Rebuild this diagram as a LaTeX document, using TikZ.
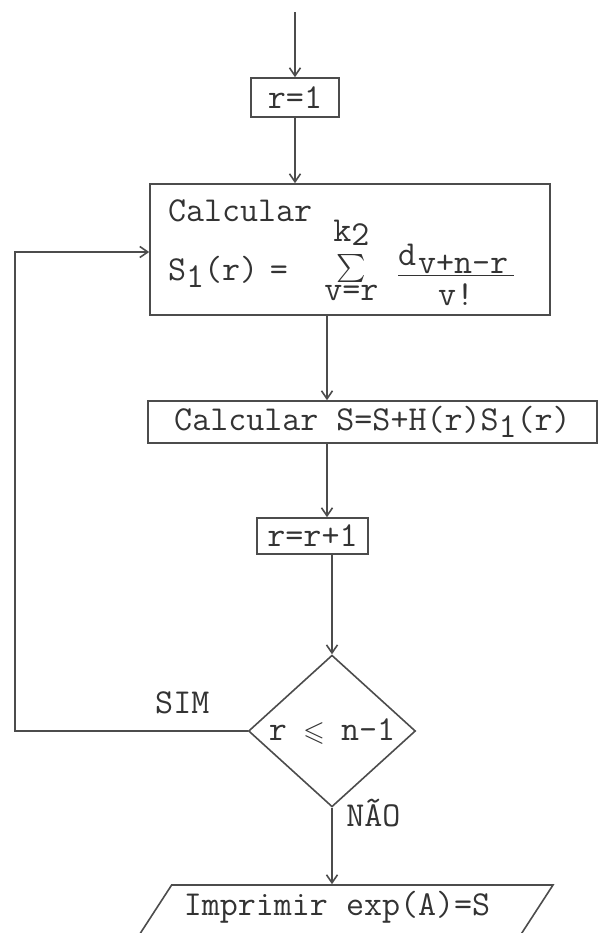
\documentclass[tikz,border=0pt]{standalone}
\usepackage{amsmath}
\usepackage{amssymb}
\usepackage{graphicx}
\usepackage{tikz}
\usetikzlibrary{positioning,arrows.meta,shapes.geometric}

\newcommand{\lo}[1]{\raisebox{-3.5pt}{#1}}
\newcommand{\sumblk}{%
  \rlap{\makebox[27pt]{\raisebox{19.5pt}[0pt][0pt]{k\raisebox{-2pt}{2}}}}%
  \rlap{\makebox[27pt]{\raisebox{2.5pt}[0pt][0pt]{\scalebox{0.8}{$\sum$}}}}%
  \makebox[27pt]{\raisebox{-10pt}[0pt][0pt]{v=r}}}
\newcommand{\fracblk}{%
  \rlap{\raisebox{7.5pt}[0pt][0pt]{d}}%
  \rlap{\raisebox{3.5pt}[0pt][0pt]{\hspace{10pt}v+n-r}}%
  \rlap{\rule[2pt]{58pt}{0.6pt}}%
  \makebox[58pt]{\raisebox{-12.5pt}[0pt][0pt]{v!}}}

\begin{document}
\begin{tikzpicture}[
  x=0.5pt, y=-0.5pt,
  font=\fontsize{17.5}{21}\selectfont\ttfamily,
  every node/.style={text=black!80},
  box/.style={draw=black!70, line width=0.8pt, inner sep=0pt},
  test/.style={draw=black!70, line width=0.8pt, diamond, inner sep=0pt,
               minimum width=83.5pt, minimum height=57.5pt},
  io/.style={draw=black!70, line width=0.8pt, trapezium, trapezium left angle=57,
             trapezium right angle=123, trapezium stretches body, inner ysep=0pt,
             text height=15pt, text depth=24pt, minimum width=216pt, minimum height=39pt},
  flow/.style={-{Straight Barb[length=4pt,width=5.5pt]}, draw=black!70, line width=0.8pt},
  tag/.style={inner sep=0pt}
]
\useasboundingbox (0,0) rectangle (600,933);

\coordinate (start) at (295,12);
\coordinate (spine) at (327,0);
\coordinate (back) at (15,252);

\node[box, minimum width=44pt, minimum height=19.5pt] (rone) at (295,97.5) {r=1};
\node[box, text width=182pt, inner xsep=9pt, align=left, minimum height=65.5pt] (big) at (350,249.5)
  {Calcular\\[8.5pt]S\lo{1}(r)~=~\hspace{12.5pt}\sumblk~\hspace{4pt}\fracblk\rule[-9.5pt]{0pt}{9.5pt}};
\node[box, minimum width=224.5pt, minimum height=21pt] (calc) at (372.5,422) {Calcular S=S+H(r)S\lo{1}(r)};
\node[box, minimum width=55.5pt, minimum height=18pt] (rinc) at (312.5,536) {r=r+1};
\node[test] (test) at (332,731) {r \makebox[9pt]{\scalebox{0.8}{$\leqslant$}} n-1};
\node[io] (out) at (337,924) {Imprimir exp(A)=S};

\draw[flow] (start) -- (rone);
\draw[flow] (rone) -- (rone |- big.north);
\draw[flow] (big.south -| spine) -- (calc.north -| spine);
\draw[flow] (calc.south -| spine) -- (rinc.north -| spine);
\draw[flow] (rinc.south -| test.north) -- (test.north);
\draw[flow] (test.west) -| (back) -- (big.west |- back);
\draw[flow] (test.south) -- (test.south |- out.north);

\node[tag, above left=8.5pt and 19pt of test.west] (sim) {SIM};
\node[tag, below right=-4.5pt and 7pt of test.south] (nao) {NÃO};
\end{tikzpicture}
\end{document}
